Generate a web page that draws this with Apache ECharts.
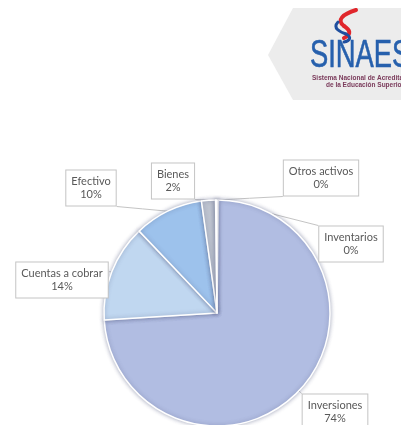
<!DOCTYPE html>
<html>
<head>
<meta charset="utf-8">
<script src="https://cdn.jsdelivr.net/npm/echarts@6/dist/echarts.min.js"></script>
<style>
html,body{margin:0;padding:0;background:#fff;}
#c{width:401px;height:425px;}
</style>
</head>
<body>
<div id="c"></div>
<script>
// ---- data ----
var categories = ['Inventarios', 'Inversiones', 'Cuentas a cobrar', 'Efectivo', 'Bienes', 'Otros activos'];
var values = [0.2, 73.8, 13.9, 9.9, 2.0, 0.2];
var sliceColors = ['#c9d3ee', '#b1bde2', '#c0d7f0', '#9dc2ec', '#bdc3cf', '#c9ced8'];

// ---- label box centres (layout, not data) ----
var labelCentres = [
  [351, 244],
  [335, 412],
  [62, 280],
  [91, 188],
  [173, 181],
  [321, 178]
];

var chart = echarts.init(document.getElementById('c'), null, {renderer: 'canvas'});

function nearestOnRect(p, r) {
  var x = Math.max(r.x, Math.min(p[0], r.x + r.width));
  var y = Math.max(r.y, Math.min(p[1], r.y + r.height));
  return [x, y];
}

function curve(x1, y1, c1x, c1y, c2x, c2y, x2, y2, color, w) {
  return {
    type: 'bezierCurve',
    shape: {x1: x1, y1: y1, cpx1: c1x, cpy1: c1y, cpx2: c2x, cpy2: c2y, x2: x2, y2: y2},
    style: {stroke: color, lineWidth: w, fill: null, lineCap: 'round'},
    z: 2
  };
}

var option = {
  backgroundColor: '#ffffff',
  animation: false,
  graphic: [
    {
      type: 'polygon',
      shape: {points: [[268, 55], [293, 8], [401, 8], [401, 100], [293, 100]]},
      style: {fill: '#ececec'},
      z: 1
    },
    curve(356, 10, 343, 14, 336, 20, 344, 26, '#e0262b', 4),
    curve(344, 26, 350, 30, 352, 34, 344, 38, '#e0262b', 4),
    curve(338, 22, 332, 28, 340, 32, 346, 34, '#1f4f9f', 3),
    curve(346, 34, 352, 37, 350, 41, 344, 42, '#1f4f9f', 3),
    {
      type: 'text',
      x: 310, y: 76,
      scaleX: 0.72,
      style: {
        text: 'SINAES',
        font: '38px "Liberation Sans", Arial, sans-serif',
        fill: '#2660ad',
        stroke: '#2660ad',
        lineWidth: 0.6,
        textVerticalAlign: 'bottom'
      },
      z: 3
    },
    {
      type: 'text',
      x: 312, y: 78,
      style: {
        text: 'Sistema Nacional de Acreditación',
        font: 'bold 6.5px "Liberation Sans", Arial, sans-serif',
        fill: '#7a3a5a',
        textVerticalAlign: 'middle'
      },
      z: 3
    },
    {
      type: 'text',
      x: 326, y: 85,
      style: {
        text: 'de la Educación Superior',
        font: 'bold 6.5px "Liberation Sans", Arial, sans-serif',
        fill: '#7a3a5a',
        textVerticalAlign: 'middle'
      },
      z: 3
    }
  ],
  series: [{
    type: 'pie',
    center: [217, 313],
    radius: 113,
    startAngle: 90,
    clockwise: true,
    avoidLabelOverlap: false,
    minShowLabelAngle: 0,
    itemStyle: {
      borderColor: '#ffffff',
      borderWidth: 1.5,
      shadowBlur: 4,
      shadowColor: 'rgba(70,80,120,0.45)'
    },
    label: {
      show: true,
      position: 'outside',
      formatter: function (p) { return p.name + '\n' + Math.round(p.value) + '%'; },
      fontFamily: 'Lato, "Noto Sans", sans-serif',
      fontSize: 11,
      lineHeight: 13,
      color: '#595959',
      backgroundColor: '#ffffff',
      borderColor: '#c4c4c4',
      borderWidth: 1,
      padding: [5, 5, 4, 5],
      align: 'center'
    },
    labelLine: {
      show: true,
      lineStyle: {color: '#c4c4c4', width: 1}
    },
    labelLayout: function (params) {
      var c = labelCentres[params.dataIndex];
      var w = params.labelRect.width, h = params.labelRect.height;
      var rect = {x: c[0] - w / 2, y: c[1] - h / 2, width: w, height: h};
      var p0 = params.labelLinePoints ? params.labelLinePoints[0] : [c[0], c[1]];
      var end = nearestOnRect(p0, rect);
      return {
        x: c[0], y: c[1],
        align: 'center', verticalAlign: 'middle',
        labelLinePoints: [p0, [(p0[0] + end[0]) / 2, (p0[1] + end[1]) / 2], end]
      };
    },
    data: categories.map(function (n, i) {
      return {name: n, value: values[i], itemStyle: {color: sliceColors[i]}};
    })
  }]
};
chart.setOption(option);
</script>
</body>
</html>
